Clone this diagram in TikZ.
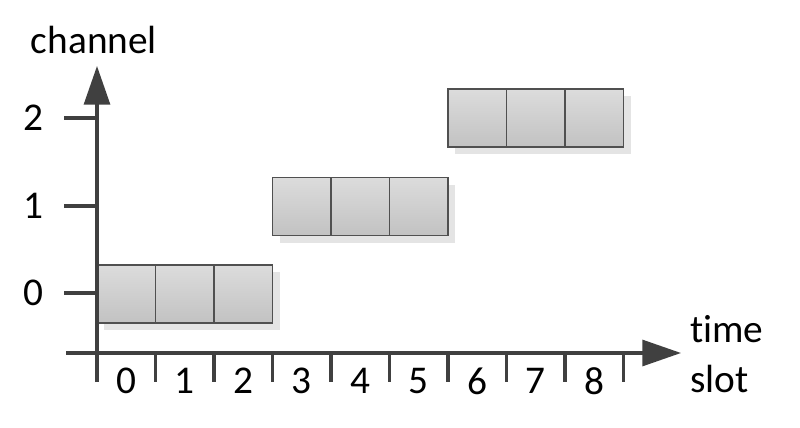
\documentclass[tikz,border=0pt]{standalone}
\usepackage{fontspec}
\setmainfont{Carlito}[Ligatures=NoCommon]
\usetikzlibrary{arrows.meta,shadows}
\definecolor{axisgray}{HTML}{404040}
\definecolor{boxtop}{HTML}{DCDCDC}
\definecolor{boxbot}{HTML}{C2C2C2}
\definecolor{boxline}{HTML}{505050}
\definecolor{shadowgray}{HTML}{E4E4E4}
\tikzset{
  slotbox/.style={draw=boxline, line width=1.1pt, top color=boxtop, bottom color=boxbot,
    minimum width=43.875pt, minimum height=43.5pt, inner sep=0pt, outer sep=0pt},
  slotshadow/.style={fill=shadowgray, draw=none},
  axisline/.style={draw=axisgray, line width=2.3pt},
  tickline/.style={draw=axisgray, line width=2.3pt},
  lbl/.style={font=\fontsize{29.5}{36}\selectfont, inner sep=0pt},
}
\begin{document}
\begin{tikzpicture}[x=0.75pt, y=-0.75pt]
\useasboundingbox (0,0) rectangle (800,428);
% shadows
\foreach \c/\yc in {0/294, 1/206.5, 2/118} {
  \fill[slotshadow] ({97+58.5*3*\c+7}, {\yc-29+7}) rectangle ({97+58.5*(3*\c+3)+7}, {\yc+29+7});
}
% boxes
\foreach \c/\yc in {0/294, 1/206.5, 2/118} {
  \foreach \j in {0,1,2} {
    \pgfmathsetmacro{\xc}{97+58.5*(3*\c+\j)+29.25}
    \node[slotbox] (b\c\j) at (\xc,\yc) {};
  }
}
% axes
\coordinate (ybot) at (97,382);
\coordinate (ytop) at (97,66);
\coordinate (xl) at (66,353);
\coordinate (xr) at (681,353);
\draw[axisline, -{Triangle[width=19.5pt, length=29pt]}] (ybot) -- (ytop);
\draw[axisline, -{Triangle[width=19.5pt, length=29pt]}] (xl) -- (xr);
% x ticks and labels
\foreach \i in {1,...,9} {
  \coordinate (xt\i) at ({97+58.5*\i},353);
  \coordinate (xb\i) at ({97+58.5*\i},382);
  \draw[tickline] (xt\i) -- (xb\i);
}
\foreach \i in {0,...,8} {
  \node[lbl] (xl\i) at ({97+58.5*\i+29.25},381) {\i};
}
% y ticks and labels
\foreach \c/\yc in {0/293, 1/206, 2/118} {
  \coordinate (yl\c) at (64,\yc);
  \coordinate (yr\c) at (97,\yc);
  \draw[tickline] (yl\c) -- (yr\c);
  \node[lbl] (ylab\c) at (33,\yc) {\c};
}
\node[lbl] (chan) at (94,40) {channel};
\node[lbl, anchor=west, align=left, font=\fontsize{29.5}{37}\selectfont] (ts) at (690,354) {time\\slot};
\end{tikzpicture}
\end{document}
